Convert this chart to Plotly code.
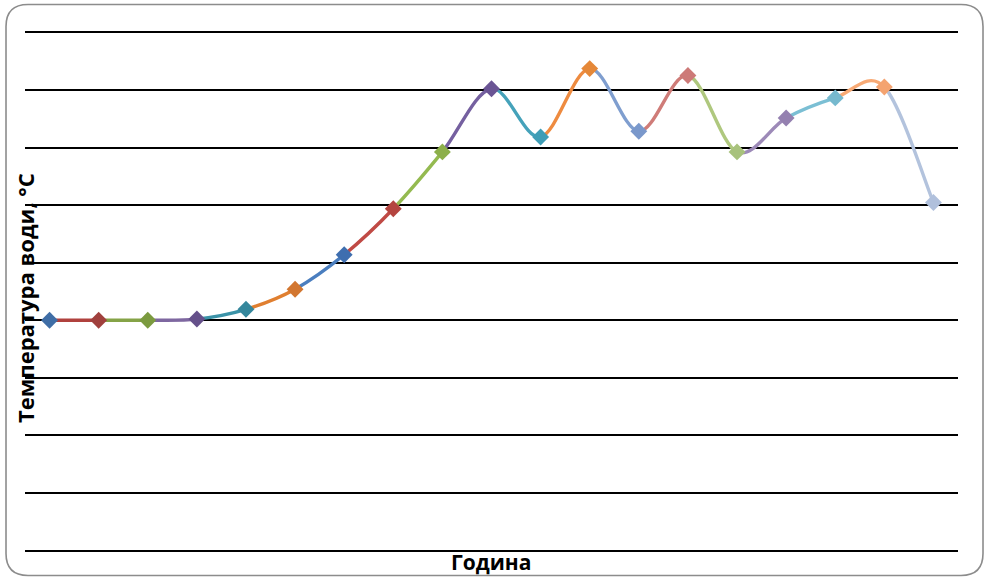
import plotly.graph_objects as go

# Hourly water temperature readings
hours = list(range(1, 20))
temps = [4.0, 4.0, 4.0, 4.02, 4.19, 4.54, 5.14, 5.94, 6.93, 8.03,
         7.19, 8.38, 7.29, 8.26, 6.93, 7.52, 7.87, 8.06, 6.05]

# per-point colours (vary-by-point palette)
line_colors = ["#4F81BD", "#B0413E", "#85A347", "#7E67A0", "#3B93A8", "#E07F30",
               "#4A7EBF", "#C04A45", "#94BA50", "#7560A0", "#45A2BA", "#EE8B40",
               "#7F9ECF", "#CF7C78", "#AFC87E", "#9D8AB8", "#7BBFD4", "#F8AA75",
               "#B3C3DD"]
marker_colors = ["#3F6EA6", "#A0403D", "#7B9A3F", "#65508A", "#35879C", "#D27630",
                 "#3E6EAF", "#B4443F", "#8CAF4A", "#6A5494", "#3E9DB6", "#E58838",
                 "#7A98CB", "#CD7A78", "#A8C27C", "#9480B0", "#76B9CE", "#F4A370",
                 "#B0C0DC"]

W, H = 988, 577
ML, MR, MT, MB = 25, 30, 33, 27
PW, PH = W - ML - MR, H - MT - MB


def paper(px, py):
    return (px - ML) / PW, (H - MB - py) / PH


fig = go.Figure()

# smoothed segments (cardinal spline as cubic Bezier), one colour per segment
shapes = []
n = len(hours)
for i in range(n - 1):
    p0 = (hours[max(i - 1, 0)], temps[max(i - 1, 0)])
    p1 = (hours[i], temps[i])
    p2 = (hours[i + 1], temps[i + 1])
    p3 = (hours[min(i + 2, n - 1)], temps[min(i + 2, n - 1)])
    c1 = (p1[0] + (p2[0] - p0[0]) / 6, p1[1] + (p2[1] - p0[1]) / 6)
    c2 = (p2[0] - (p3[0] - p1[0]) / 6, p2[1] - (p3[1] - p1[1]) / 6)
    path = (f"M {p1[0]},{p1[1]} C {c1[0]},{c1[1]} {c2[0]},{c2[1]} "
            f"{p2[0]},{p2[1]}")
    shapes.append(dict(type="path", xref="x", yref="y", path=path,
                       line=dict(color=line_colors[i + 1], width=3.4),
                       layer="between"))

# rounded chart border
x0, x1, y0, y1, r = 6, 983, 4.5, 575.5, 22
pts = [
    ("M", (x0 + r, y0)), ("L", (x1 - r, y0)), ("Q", (x1, y0), (x1, y0 + r)),
    ("L", (x1, y1 - r)), ("Q", (x1, y1), (x1 - r, y1)),
    ("L", (x0 + r, y1)), ("Q", (x0, y1), (x0, y1 - r)),
    ("L", (x0, y0 + r)), ("Q", (x0, y0), (x0 + r, y0)),
]
parts = []
for cmd, *coords in pts:
    parts.append(cmd + " " + " ".join("{:.5f},{:.5f}".format(*paper(*c)) for c in coords))
shapes.append(dict(type="path", xref="paper", yref="paper",
                   path=" ".join(parts) + " Z",
                   line=dict(color="#8C8C8C", width=1.6), layer="above"))

fig.add_trace(go.Scatter(
    x=hours, y=temps, mode="markers",
    marker=dict(symbol="diamond", size=13, color=marker_colors,
                line=dict(width=0)),
    hoverinfo="x+y", showlegend=False,
))

fig.update_layout(
    width=W, height=H,
    margin=dict(l=ML, r=MR, t=MT, b=MB),
    paper_bgcolor="white", plot_bgcolor="white",
    shapes=shapes,
    showlegend=False,
    xaxis=dict(range=[0.5, 19.5], showgrid=False, zeroline=False,
               showticklabels=False, ticks="",
               showline=True, mirror=True, linecolor="black", linewidth=2),
    yaxis=dict(range=[0, 9], dtick=1, showgrid=True, gridcolor="black",
               gridwidth=2, zeroline=False, showticklabels=False, ticks="",
               showline=False),
    annotations=[
        dict(text="<b>Година</b>", xref="paper", yref="paper",
             x=paper(491, 0)[0], y=paper(0, 562)[1],
             xanchor="center", yanchor="middle", showarrow=False,
             font=dict(family="Open Sans", size=21, color="black")),
        dict(text="<b>Температура води, °C</b>", xref="paper", yref="paper",
             x=paper(25, 0)[0], y=paper(0, 298)[1], textangle=-90,
             xanchor="center", yanchor="middle", showarrow=False,
             font=dict(family="Open Sans", size=22, color="black")),
    ],
)

fig.write_html("out.html")
